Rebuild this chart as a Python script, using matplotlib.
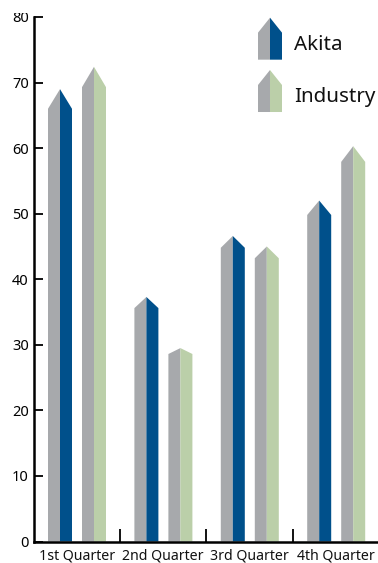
import matplotlib
matplotlib.use('Agg')
import matplotlib.pyplot as plt
from matplotlib.legend_handler import HandlerBase
from matplotlib.patches import Polygon, Patch
from matplotlib.transforms import Bbox

plt.rcParams['font.family'] = ['Noto Sans', 'DejaVu Sans']

categories = ['1st Quarter', '2nd Quarter', '3rd Quarter', '4th Quarter']
series_names = ['Akita', 'Industry']
akita_values = [69.0, 37.3, 46.6, 52.0]
industry_values = [72.4, 29.5, 45.0, 60.3]
akita_shoulders = [66.0, 35.6, 44.8, 49.8]
industry_shoulders = [69.3, 28.6, 43.2, 57.9]
y_ticks = [0, 10, 20, 30, 40, 50, 60, 70, 80]

GRAY = '#A7A9AC'
BLUE = '#00508B'
GREEN = '#BBCFA9'

W, H = 378, 563
PX = 72 / 100
fig = plt.figure(figsize=(W / 100, H / 100), dpi=100)
left, right, bottom, top = 33.5, 378.0, 541.5, 17.0
ax = fig.add_axes([left / W, (H - bottom) / H, (right - left) / W, (bottom - top) / H])
cat_px = 86.4
ax.set_xlim(0, (right - left) / cat_px)
ax.set_ylim(0, 80)

half_w = 12.0 / cat_px
centers = [(60 - left) / cat_px, (94 - left) / cat_px]


def draw_bar(xc, top_v, shoulder, color):
    ax.fill([xc - half_w, xc - half_w, xc, xc], [0, shoulder, top_v, 0],
            color=GRAY, lw=0, zorder=2)
    ax.fill([xc, xc, xc + half_w, xc + half_w], [0, top_v, shoulder, 0],
            color=color, lw=0, zorder=2)


for i in range(len(categories)):
    draw_bar(i + centers[0], akita_values[i], akita_shoulders[i], BLUE)
    draw_bar(i + centers[1], industry_values[i], industry_shoulders[i], GREEN)

for s in ('top', 'right'):
    ax.spines[s].set_visible(False)
for s in ('left', 'bottom'):
    ax.spines[s].set_linewidth(1.8)
    ax.spines[s].set_capstyle('projecting')

ax.set_yticks(y_ticks)
ax.tick_params(axis='y', direction='in', length=6.5, width=1.3, pad=3.5, labelsize=10.5)
ax.set_xticks([1, 2, 3])
ax.set_xticklabels([])
ax.tick_params(axis='x', direction='in', length=9.5, width=1.3)
for i, c in enumerate(categories):
    ax.text(i + 0.5, -14.5 / (bottom - top), c, transform=ax.get_xaxis_transform(),
            ha='center', va='center', fontsize=10.2, color='#111111')

# the top label is cut by the edge of the plate in the reference
for lab in ax.get_yticklabels():
    if lab.get_text() == '80':
        lab.set_clip_on(True)
        lab.set_clip_box(Bbox([[0, 0], [W, H - 12.5]]))


class HouseHandler(HandlerBase):
    def __init__(self, color):
        super().__init__()
        self.color = color

    def create_artists(self, legend, orig, xd, yd, w, h, fs, trans):
        base, shoulder, apex = -10 * PX, 17 * PX, 32 * PX
        mid, full = 12 * PX, 24 * PX
        l = Polygon([[0, base], [0, shoulder], [mid, apex], [mid, base]], closed=True,
                    fc=GRAY, lw=0, transform=trans)
        r = Polygon([[mid, base], [mid, apex], [full, shoulder], [full, base]], closed=True,
                    fc=self.color, lw=0, transform=trans)
        return [l, r]


handles = [Patch(label=series_names[0]), Patch(label=series_names[1])]
fs = 14.8
leg = ax.legend(handles, series_names,
                handler_map={handles[0]: HouseHandler(BLUE), handles[1]: HouseHandler(GREEN)},
                loc='upper left', bbox_to_anchor=(258 / W, 1 - 27 / H),
                bbox_transform=fig.transFigure, frameon=False, fontsize=fs,
                handlelength=24 * PX / fs, handleheight=42 * PX / fs,
                handletextpad=12 * PX / fs,
                labelspacing=20 * PX / fs, borderpad=0, borderaxespad=0,
                labelcolor='#111111')

fig.savefig('out.png', dpi=100)
